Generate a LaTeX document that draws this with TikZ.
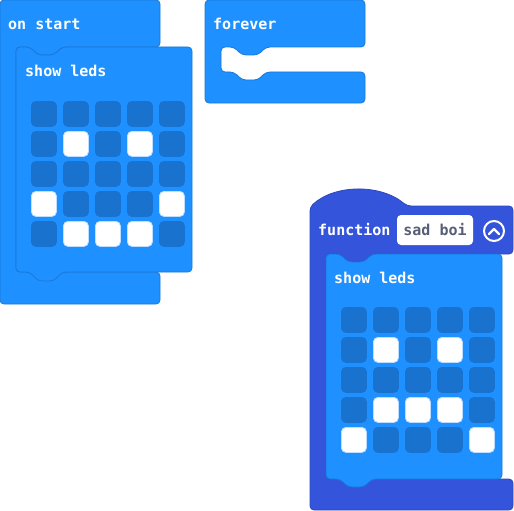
\documentclass[tikz,border=0pt]{standalone}
\usepackage{fontspec}
\setmonofont{DejaVu Sans Mono}
\definecolor{blk}{HTML}{1E90FF}
\definecolor{blkedge}{HTML}{1A78DA}
\definecolor{ledc0}{HTML}{1A72CF}
\definecolor{ledc1}{HTML}{FFFFFF}
\definecolor{ledd0}{HTML}{1A72CF}
\definecolor{ledd1}{HTML}{BFDDFF}
\definecolor{fun}{HTML}{3455DB}
\definecolor{funedge}{HTML}{2B47BD}
\definecolor{fieldtxt}{HTML}{575E75}
\begin{document}
\begin{tikzpicture}[x=1pt,y=-1pt,
  blockA/.style={fill=blk,draw=blkedge,line width=0.8pt,rounded corners=4pt},
  blockF/.style={fill=fun,draw=funedge,line width=0.8pt,rounded corners=4pt},
  lbl/.style={text=white,font=\ttfamily\bfseries\fontsize{15}{18}\selectfont,anchor=base west,inner sep=0pt},
  led/.style={rectangle,rounded corners=4.5pt,minimum size=25pt,inner sep=0pt,line width=0.8pt,anchor=north west}]
\useasboundingbox (0,0) rectangle (514,511);

% on start
\draw[blockA] (0,0) -- (160,0) -- (160,47) -- (62,47) -- (54,55) -- (38,55) -- (30,47) -- (16,47) -- (16,272) -- (160,272) -- (160,304) -- (0,304) -- cycle;
% show leds (on start)
\draw[blockA] (16,47) -- (30,47) -- (38,55) -- (54,55) -- (62,47) -- (192,47) -- (192,272) -- (62,272) -- (54,281) -- (38,281) -- (30,272) -- (16,272) -- cycle;
\foreach \r/\va/\vb/\vc/\vd/\ve in {1/0/0/0/0/0,2/0/1/0/1/0,3/0/0/0/0/0,4/1/0/0/0/1,5/0/1/1/1/0}{
  \foreach \k/\v in {1/\va,2/\vb,3/\vc,4/\vd,5/\ve}{
    \node[led,fill=ledc\v,draw=ledd\v] (a-\r-\k) at ({31+32*(\k-1)},{101+30*(\r-1)}) {};
  }
}

% forever
\draw[blockA] (205,0) -- (365,0) -- (365,47) -- (266,47) -- (258,55) -- (242,55) -- (234,47) -- (221,47) -- (221,72) -- (234,72) -- (242,80) -- (258,80) -- (266,72) -- (365,72) -- (365,103) -- (205,103) -- cycle;

% function
\draw[blockF] (310,207) .. controls (335,184) and (381,184) .. (407,206) -- (513,206) -- (513,254) -- (372,254) -- (364,262) -- (348,262) -- (340,254) -- (326,254) -- (326,479) -- (513,479) -- (513,510) -- (310,510) -- cycle;
% show leds (function)
\draw[blockA] (326,254) -- (340,254) -- (348,262) -- (364,262) -- (372,254) -- (502,254) -- (502,479) -- (372,479) -- (364,487) -- (348,487) -- (340,479) -- (326,479) -- cycle;
\foreach \r/\va/\vb/\vc/\vd/\ve in {1/0/0/0/0/0,2/0/1/0/1/0,3/0/0/0/0/0,4/0/1/1/1/0,5/1/0/0/0/1}{
  \foreach \k/\v in {1/\va,2/\vb,3/\vc,4/\vd,5/\ve}{
    \node[led,fill=ledc\v,draw=ledd\v] (f-\r-\k) at ({341+32*(\k-1)},{307+30*(\r-1)}) {};
  }
}

% texts
\node[lbl] (onstart) at (8,30) {on start};
\node[lbl] (leds1) at (25,77) {show leds};
\node[lbl] (forever) at (213,30) {forever};
\node[lbl] (function) at (318,235) {function};
\node[fill=white,rounded corners=4pt,inner sep=0pt,text height=20pt,text depth=10pt,minimum width=76pt,anchor=base,
  text=fieldtxt,font=\ttfamily\bfseries\fontsize{15}{18}\selectfont] (name) at (435,235) {sad boi};
\node[lbl] (leds2) at (334,283) {show leds};
\node[draw=white,circle,line width=2pt,minimum size=20pt,inner sep=0pt] (tog) at (494,231) {};
\draw[white,line width=2.2pt,line cap=round,line join=round] ([shift={(-5,3)}]tog.center) -- ([shift={(0,-2)}]tog.center) -- ([shift={(5,3)}]tog.center);
\end{tikzpicture}
\end{document}
